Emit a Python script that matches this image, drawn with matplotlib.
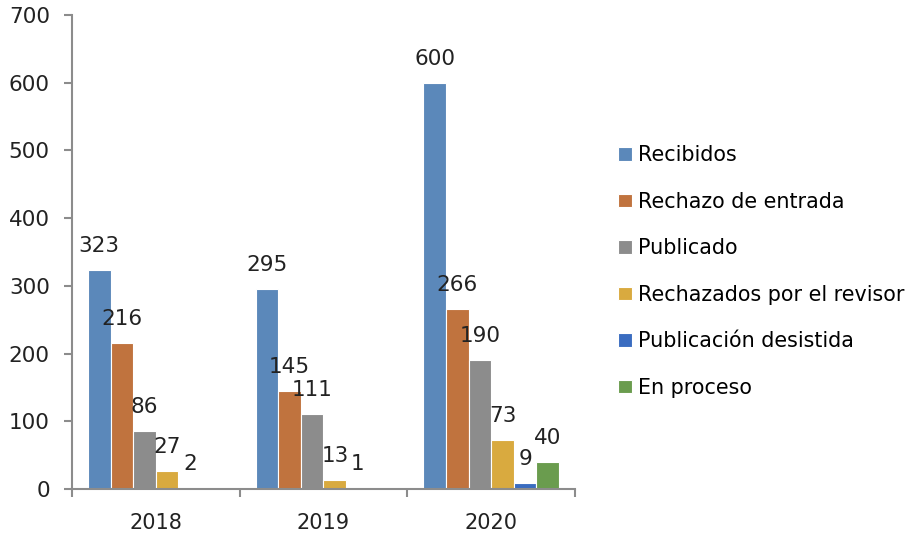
import matplotlib
matplotlib.use("Agg")
import matplotlib.pyplot as plt
import numpy as np

years = ["2018", "2019", "2020"]
series = ["Recibidos", "Rechazo de entrada", "Publicado",
          "Rechazados por el revisor", "Publicación desistida", "En proceso"]
recibidos = [323, 295, 600]
rechazo_entrada = [216, 145, 266]
publicado = [86, 111, 190]
rechazados_revisor = [27, 13, 73]
desistida = [2, 1, 9]
en_proceso = [0, 0, 40]
values = [recibidos, rechazo_entrada, publicado, rechazados_revisor, desistida, en_proceso]
colors = ["#5B88BA", "#C0733E", "#8C8C8C", "#D9AA3F", "#3A6CC0", "#6A9C4E"]

plt.rcParams['font.family'] = ['DejaVu Sans']
fig = plt.figure(figsize=(9.18, 5.37), dpi=100)
ax = fig.add_axes([72/918, 48/537, (575-72)/918, (489-15)/537])

x = np.arange(len(years))
w = 0.135
for i, (name, vals, c) in enumerate(zip(series, values, colors)):
    pos = x + (i - 2.5) * w
    ax.bar(pos, vals, width=w, color=c, edgecolor="white", linewidth=0.8, label=name)
    for p, v in zip(pos, vals):
        if v > 0:
            ax.annotate(str(v), (p, v), xytext=(0, 10), textcoords="offset points",
                        ha="center", va="bottom", fontsize=15.5, color="#222222")

ax.set_xlim(-0.5, 2.5)
ax.set_ylim(0, 700)
ax.set_yticks(range(0, 701, 100))
ax.set_xticks(x)
ax.set_xticklabels(years)
ax.set_xticks([-0.5, 0.5, 1.5, 2.5], minor=True)
ax.tick_params(axis="x", which="major", length=0, labelsize=15, pad=17, colors="#222222")
ax.tick_params(axis="x", which="minor", length=6, width=1.5, color="#8C8C8C", direction="out")
ax.tick_params(axis="y", length=6, width=1.5, color="#8C8C8C", labelsize=15.5, labelcolor="#222222", pad=10)
for s in ["top", "right"]:
    ax.spines[s].set_visible(False)
for s in ["left", "bottom"]:
    ax.spines[s].set_color("#8C8C8C")
    ax.spines[s].set_linewidth(1.5)

fig.legend(loc="upper left", bbox_to_anchor=(610/918, 1 - 137/537), frameon=False,
           fontsize=14.9, handlelength=0.65, handleheight=0.65, handletextpad=0.3,
           labelspacing=1.28, borderaxespad=0)

fig.savefig("out.png", dpi=100)
